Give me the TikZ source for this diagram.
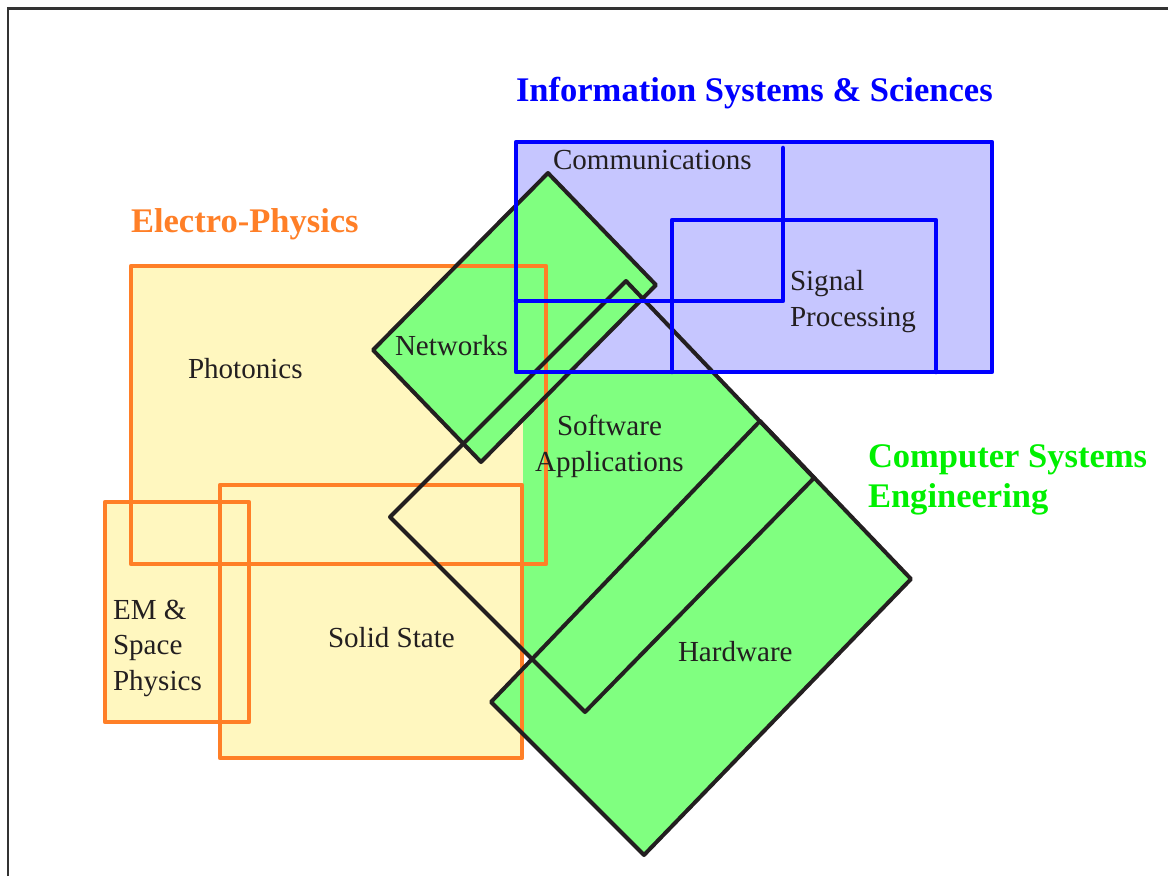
\documentclass[tikz,border=0pt]{standalone}
\usepackage{fontspec}
\setmainfont{Liberation Serif}
\definecolor{ephfill}{HTML}{FFF7BF}
\definecolor{ephline}{HTML}{FF7F27}
\definecolor{isfill}{HTML}{C6C6FF}
\definecolor{isline}{HTML}{0000FF}
\definecolor{csfill}{HTML}{80FF80}
\definecolor{cstext}{HTML}{00F000}
\definecolor{txt}{HTML}{231F20}
\definecolor{framec}{HTML}{333333}
\tikzset{
  ephbox/.style={draw=ephline, line width=3.5pt, line join=round, line cap=round},
  isbox/.style={draw=isline, line width=3.4pt, line join=round, line cap=round},
  csbox/.style={draw=txt, line width=3pt, line join=round, line cap=round},
  lbl/.style={inner sep=0pt, outer sep=0pt, text=txt, font=\fontsize{21.8}{26.3}\selectfont},
  title/.style={inner sep=0pt, outer sep=0pt, font=\fontsize{25.9}{30}\selectfont\bfseries},
}
\begin{document}
\begin{tikzpicture}[x=0.75pt,y=-0.75pt]
\useasboundingbox (0,0) rectangle (1168,876);
% coordinates
\coordinate (nT) at (548,173);
\coordinate (nR) at (656,285);
\coordinate (nB) at (481,462);
\coordinate (nL) at (373,350);
\coordinate (sL) at (390,517);
\coordinate (sT) at (626,281);
\coordinate (sR) at (814,478);
\coordinate (sB) at (585,712);
\coordinate (hL) at (491,702);
\coordinate (hT) at (760,421);
\coordinate (hR) at (911,579);
\coordinate (hB) at (644,855);
% fills
\fill[ephfill] (131,266) rectangle (546,564);
\fill[ephfill] (220,485) rectangle (522,758);
\fill[ephfill] (105,502) rectangle (249,722);
\begin{scope}
  \clip (523,0) rectangle (1168,876);
  \fill[csfill] (sL) -- (sT) -- (sR) -- (sB) -- cycle;
\end{scope}
\fill[csfill] (hL) -- (hT) -- (hR) -- (hB) -- cycle;
\fill[isfill] (516,142) rectangle (992,372);
\fill[csfill] (nT) -- (nR) -- (nB) -- (nL) -- cycle;
% orange outlines
\draw[ephbox] (131,266) rectangle (546,564);
\draw[ephbox] (220,485) rectangle (522,758);
\draw[ephbox] (105,502) rectangle (249,722);
% black outlines
\draw[csbox] (nT) -- (nR) -- (nB) -- (nL) -- cycle;
\draw[csbox] (sL) -- (sT) -- (sR) -- (sB) -- cycle;
\draw[csbox] (hL) -- (hT) -- (hR) -- (hB) -- cycle;
% blue outlines
\draw[isbox] (516,142) rectangle (992,372);
\draw[isbox] (783,148) -- (783,301) -- (516,301);
\draw[isbox] (672,372) -- (672,220) -- (936,220) -- (936,372);
% frame
\draw[framec, line width=1.9pt] (8,876) -- (8,8.5) -- (1168,8.5);
% titles
\node[title, text=isline, anchor=base west] (tis) at (516,101) {Information Systems \& Sciences};
\node[title, text=ephline, anchor=base west] (tep) at (131,232) {Electro-Physics};
\node[title, text=cstext, anchor=base west, align=left] (tcs) at (868,507) {Computer Systems\\Engineering};
% labels
\node[lbl, anchor=base west] (comm) at (553,169) {Communications};
\node[lbl, anchor=base west, align=left] (sig) at (790,326) {Signal\\Processing};
\node[lbl, anchor=base west] (net) at (395,355) {Networks};
\node[lbl, anchor=base west] (pho) at (188,378) {Photonics};
\node[lbl, anchor=base, align=center] (soft) at (609.5,471) {Software\\Applications};
\node[lbl, anchor=base west] (sol) at (328,647) {Solid State};
\node[lbl, anchor=base west, align=left] (em) at (113,690) {EM \&\\Space\\Physics};
\node[lbl, anchor=base west] (hw) at (678,661) {Hardware};
\end{tikzpicture}
\end{document}
